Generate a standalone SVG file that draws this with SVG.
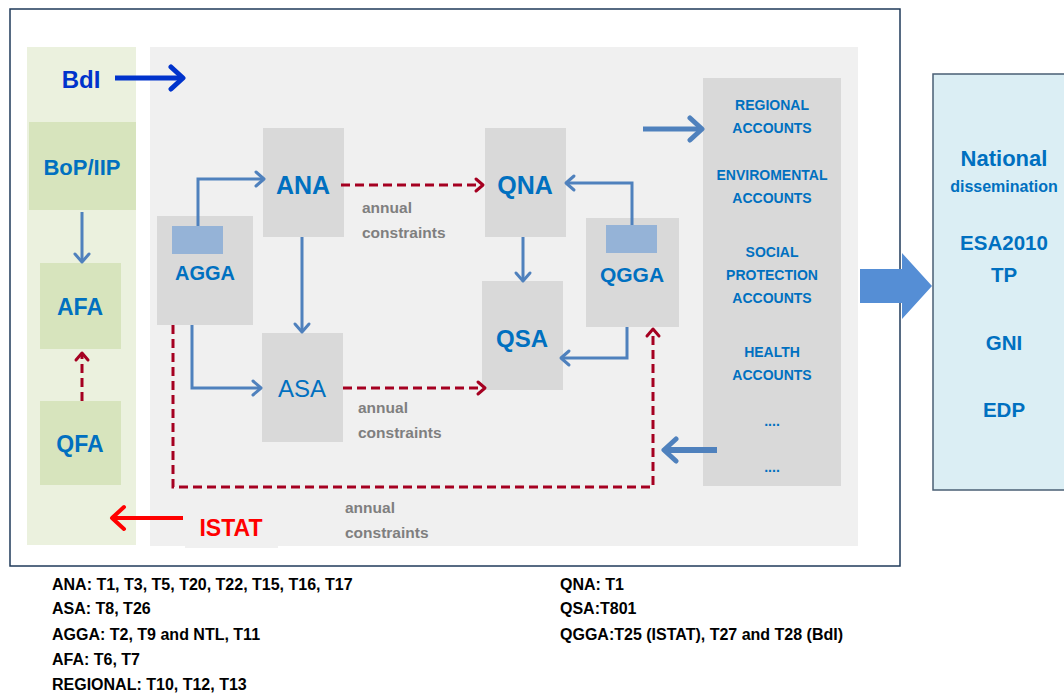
<svg xmlns="http://www.w3.org/2000/svg" width="1064" height="695" viewBox="0 0 1064 695">
<style>
text{font-family:"Liberation Sans",Arial,sans-serif;font-weight:bold}
.nl{fill:#0070c0;text-anchor:middle}
.acc{fill:#0070c0;text-anchor:middle;font-size:14px}
.nat{fill:#0070c0;text-anchor:middle}
.ac{fill:#7f7f7f;font-size:15.5px}
.leg{fill:#000;font-size:16px}
.box{fill:#d9d9d9}
.gbox{fill:#d7e4bd}
.inner{fill:#95b3d7}
.blue{fill:none;stroke:#4f81bd;stroke-width:3;stroke-linejoin:miter}
.red{fill:none;stroke:#a50021;stroke-width:3;stroke-dasharray:9 5}
</style>
<defs>
<marker id="ab" markerUnits="userSpaceOnUse" markerWidth="18" markerHeight="20" refX="14" refY="10" orient="auto">
<path d="M6,3 L14,10 L6,17" fill="none" stroke="#4f81bd" stroke-width="3" stroke-linecap="round" stroke-linejoin="round"/>
</marker>
<marker id="ar" markerUnits="userSpaceOnUse" markerWidth="18" markerHeight="20" refX="14" refY="10" orient="auto">
<path d="M7,4 L14,10 L7,16" fill="none" stroke="#a50021" stroke-width="3" stroke-linecap="round" stroke-linejoin="round"/>
</marker>
<marker id="abt" markerUnits="userSpaceOnUse" markerWidth="24" markerHeight="28" refX="20" refY="14" orient="auto">
<path d="M8,3 L20,14 L8,25" fill="none" stroke="#4f81bd" stroke-width="5" stroke-linecap="round" stroke-linejoin="round"/>
</marker>
<marker id="adb" markerUnits="userSpaceOnUse" markerWidth="24" markerHeight="28" refX="20" refY="14" orient="auto">
<path d="M8,3 L20,14 L8,25" fill="none" stroke="#0033cc" stroke-width="5" stroke-linecap="round" stroke-linejoin="round"/>
</marker>
<marker id="ared" markerUnits="userSpaceOnUse" markerWidth="24" markerHeight="28" refX="20" refY="14" orient="auto">
<path d="M8,3 L20,14 L8,25" fill="none" stroke="#ff0000" stroke-width="4" stroke-linecap="round" stroke-linejoin="round"/>
</marker>
</defs>

<rect width="1064" height="695" fill="#ffffff"/>

<g id="frame">
<rect x="10" y="9" width="890" height="557" fill="#ffffff" stroke="#1f3a5a" stroke-width="1.5"/>
<rect x="27" y="47" width="109" height="498" fill="#ebf1de"/>
<rect x="150" y="47" width="708" height="499" fill="#f0f0f0"/>
<rect x="185" y="505" width="93" height="43" fill="#f0f0f0"/>
</g>

<g id="BdI"><text x="81" y="88" font-size="24" fill="#0033cc" text-anchor="middle">BdI</text></g>
<g id="ISTAT"><text x="231" y="536" font-size="23" fill="#ff0000" text-anchor="middle">ISTAT</text></g>

<g id="BoP"><rect class="gbox" x="29" y="122" width="107" height="88"/><text class="nl" x="82" y="175" font-size="22">BoP/IIP</text></g>
<g id="AFA"><rect class="gbox" x="40" y="263" width="81" height="86"/><text class="nl" x="80" y="315" font-size="23">AFA</text></g>
<g id="QFA"><rect class="gbox" x="40" y="401" width="81" height="84"/><text class="nl" x="80" y="452" font-size="23">QFA</text></g>

<g id="AGGA"><rect class="box" x="157" y="216" width="96" height="109"/><rect class="inner" x="172" y="226" width="51" height="28"/><text class="nl" x="205" y="280" font-size="20">AGGA</text></g>
<g id="ANA"><rect class="box" x="263" y="128" width="81" height="109"/><text class="nl" x="303" y="194" font-size="25">ANA</text></g>
<g id="ASA"><rect class="box" x="262" y="333" width="81" height="109"/><text class="nl" x="302" y="397" font-size="24" style="font-weight:normal">ASA</text></g>
<g id="QNA"><rect class="box" x="485" y="128" width="81" height="109"/><text class="nl" x="525" y="194" font-size="25">QNA</text></g>
<g id="QSA"><rect class="box" x="482" y="281" width="81" height="109"/><text class="nl" x="522" y="347" font-size="24">QSA</text></g>
<g id="QGGA"><rect class="box" x="586" y="218" width="93" height="109"/><rect class="inner" x="606" y="225" width="51" height="28"/><text class="nl" x="632" y="282" font-size="21">QGGA</text></g>

<g id="accounts">
<rect class="box" x="703" y="78" width="138" height="408"/>
<text class="acc" x="772" y="110">REGIONAL</text>
<text class="acc" x="772" y="133">ACCOUNTS</text>
<text class="acc" x="772" y="180">ENVIROMENTAL</text>
<text class="acc" x="772" y="203">ACCOUNTS</text>
<text class="acc" x="772" y="257">SOCIAL</text>
<text class="acc" x="772" y="280">PROTECTION</text>
<text class="acc" x="772" y="303">ACCOUNTS</text>
<text class="acc" x="772" y="357">HEALTH</text>
<text class="acc" x="772" y="380">ACCOUNTS</text>
<text class="acc" x="772" y="426">....</text>
<text class="acc" x="772" y="472">....</text>
</g>

<g id="national">
<rect x="933" y="74" width="140" height="416" fill="#dbeef4" stroke="#4a5f74" stroke-width="1.5"/>
<text class="nat" x="1004" y="166" font-size="22">National</text>
<text class="nat" x="1004" y="192" font-size="16">dissemination</text>
<text class="nat" x="1004" y="250" font-size="20.5">ESA2010</text>
<text class="nat" x="1004" y="282" font-size="20.5">TP</text>
<text class="nat" x="1004" y="350" font-size="20.5">GNI</text>
<text class="nat" x="1004" y="417" font-size="20.5">EDP</text>
</g>

<g id="labels">
<text class="ac" x="362" y="213">annual</text>
<text class="ac" x="362" y="238">constraints</text>
<text class="ac" x="358" y="413">annual</text>
<text class="ac" x="358" y="438">constraints</text>
<text class="ac" x="345" y="513">annual</text>
<text class="ac" x="345" y="538">constraints</text>
</g>

<g id="connectors">
<line x1="115" y1="78" x2="183" y2="78" stroke="#0033cc" stroke-width="5" marker-end="url(#adb)"/>
<line x1="183" y1="518" x2="112" y2="518" stroke="#ff0000" stroke-width="4" marker-end="url(#ared)"/>
<line class="blue" x1="82" y1="212" x2="82" y2="262" marker-end="url(#ab)"/>
<line class="red" x1="82" y1="401" x2="82" y2="353" marker-end="url(#ar)"/>
<polyline class="blue" points="198,226 198,179 264,179" marker-end="url(#ab)"/>
<line class="blue" x1="302" y1="237" x2="302" y2="332" marker-end="url(#ab)"/>
<polyline class="blue" points="192,325 192,388 261,388" marker-end="url(#ab)"/>
<line class="blue" x1="523" y1="237" x2="523" y2="281" marker-end="url(#ab)"/>
<polyline class="blue" points="632,225 632,183 566,183" marker-end="url(#ab)"/>
<polyline class="blue" points="627,327 627,358 561,358" marker-end="url(#ab)"/>
<line class="red" x1="341" y1="185" x2="483" y2="185" marker-end="url(#ar)"/>
<line class="red" x1="343" y1="388" x2="485" y2="388" marker-end="url(#ar)"/>
<polyline class="red" points="173,325 173,487 653,487 653,329" marker-end="url(#ar)"/>
<line x1="643" y1="129" x2="702" y2="129" stroke="#4f81bd" stroke-width="5" marker-end="url(#abt)"/>
<line x1="717" y1="450" x2="664" y2="450" stroke="#4f81bd" stroke-width="6" marker-end="url(#abt)"/>
<polygon points="860,269 902,269 902,253 932,286 902,319 902,303 860,303" fill="#558ed5"/>
</g>

<g id="legend">
<text class="leg" x="52" y="590">ANA: T1, T3, T5, T20, T22, T15, T16, T17</text>
<text class="leg" x="52" y="614">ASA: T8, T26</text>
<text class="leg" x="52" y="640">AGGA: T2, T9 and NTL, T11</text>
<text class="leg" x="52" y="665">AFA: T6, T7</text>
<text class="leg" x="52" y="690">REGIONAL: T10, T12, T13</text>
<text class="leg" x="560" y="590">QNA: T1</text>
<text class="leg" x="560" y="614">QSA:T801</text>
<text class="leg" x="560" y="640">QGGA:T25 (ISTAT), T27 and T28 (BdI)</text>
</g>
</svg>
